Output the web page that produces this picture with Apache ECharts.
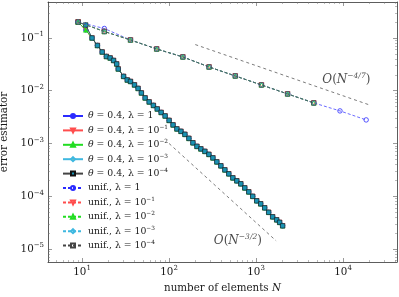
<!DOCTYPE html>
<html><head><meta charset="utf-8">
<script src="https://cdn.jsdelivr.net/npm/echarts@6/dist/echarts.min.js"></script>
<style>html,body{margin:0;padding:0;background:#fff}#c{width:399px;height:297px}</style>
</head><body><div id="c"></div>
<script>
// ---------- data ----------
const adaptN = [9,11,13,15,17,19,21,23,25,26,30,33,36,40,44,48,53,59,66,73,81,90,100,111,123,137,152,169,188,209,232,258,287,319,354,394,438,486,541,601,668,742,825,916,1018,1131,1257,1397,1552,1726,1867,2021];
// theta = 0.4, lambda = 1, 1e-1, 1e-2
const adaptErrA = [0.201,0.1418,0.100,0.0721,0.0543,0.0446,0.0418,0.0375,0.0322,0.0259,0.0187,0.0160,0.0150,0.0129,0.01106,0.00909,0.00731,0.00614,0.00527,0.00452,0.00388,0.00333,0.00274,0.00225,0.00189,0.00170,0.00149,0.00125,0.00103,0.000882,0.000790,0.000709,0.000622,0.000534,0.000448,0.000377,0.000316,0.000266,0.000223,0.000196,0.000172,0.000144,0.000121,0.0000996,0.0000819,0.0000718,0.0000603,0.0000496,0.0000407,0.0000357,0.0000320,0.0000275];
// theta = 0.4, lambda = 1e-3, 1e-4
const adaptErrB = [0.201,0.1763,0.100,0.0721,0.0543,0.0446,0.0418,0.0375,0.0322,0.0259,0.0187,0.0160,0.0150,0.0129,0.01106,0.00909,0.00731,0.00614,0.00527,0.00452,0.00388,0.00333,0.00274,0.00225,0.00189,0.00170,0.00149,0.00125,0.00103,0.000882,0.000790,0.000709,0.000622,0.000534,0.000448,0.000377,0.000316,0.000266,0.000223,0.000196,0.000172,0.000144,0.000121,0.0000996,0.0000819,0.0000718,0.0000603,0.0000496,0.0000407,0.0000357,0.0000320,0.0000275];
const unifN = [9,18,36,72,144,288,576,1152,2304,4608,9216,18432];
const unifErrLam1 = [0.201,0.1514,0.0917,0.0619,0.0437,0.02824,0.01908,0.01288,0.00870,0.00588,0.00415,0.00280];
const unifErrOther = [0.201,0.1328,0.0917,0.0619,0.0437,0.02824,0.01908,0.01288,0.00870,0.00588];
// reference slopes
const rate47N = [200,20000];
const rate47Err = [0.075,0.0054];
const rate32N = [100,1700];
const rate32Err = [0.001,0.0000143];
// annotation anchors
const noteN = [10900,617];
const noteErr = [0.0160,0.0000143];
const noteText = ['−4/7','−3/2'];
// ticks (decade exponents)
const xMajorExp = [1,2,3,4];
const yMajorExp = [-5,-4,-3,-2,-1];
const lambdaExp = ['', '−1', '−2', '−3', '−4'];
// axis range (log10 units)
const xRange = [0.608, 4.62];
const yRange = [-5.246, -0.318];

// ---------- build ----------
const F = 'DejaVu Serif';
const TC = '#1a1a1a';
const lg = Math.log10;
function minors(lo, hi, e0, e1){
  const out=[];
  for(let e=e0;e<=e1;e++) for(let k=2;k<=9;k++){const v=e+lg(k); if(v>=lo&&v<=hi) out.push(v);}
  return out;
}
const xMinor = minors(xRange[0],xRange[1],0,4);
const yMinor = minors(yRange[0],yRange[1],-6,-1);
const pair = (xs,ys)=>ys.map((y,i)=>[lg(xs[i]),lg(y)]);
const supRich = {
  b:{fontFamily:F,fontSize:10.3,color:TC,lineHeight:14},
  s:{fontFamily:F,fontSize:7,color:TC,lineHeight:8,verticalAlign:'top'}
};
const fmtPow = v => '{b|10}{s|' + String(Math.round(v)).replace('-','−') + '}';
const lineC = '#333';
function axisSet(dim){
  const isX = dim==='x';
  const r = isX?xRange:yRange;
  const maj = isX?xMajorExp:yMajorExp, mnr = isX?xMinor:yMinor;
  const pos = isX?['bottom','top']:['left','right'];
  const base = {type:'value',min:r[0],max:r[1],scale:true,splitLine:{show:false},gridIndex:0};
  return [
    Object.assign({},base,{position:pos[0],axisLine:{show:true,lineStyle:{color:lineC,width:0.8}},
      axisTick:{show:true,inside:true,length:4,customValues:maj,lineStyle:{color:'#555',width:0.6}},
      axisLabel:{show:true,customValues:maj,formatter:fmtPow,rich:supRich,margin:isX?3:4}}),
    Object.assign({},base,{position:pos[0],axisLine:{show:false},
      axisTick:{show:true,inside:true,length:2,customValues:mnr,lineStyle:{color:'#777',width:0.5}},
      axisLabel:{show:false}}),
    Object.assign({},base,{position:pos[1],axisLine:{show:true,lineStyle:{color:lineC,width:0.8}},
      axisTick:{show:true,inside:true,length:4,customValues:maj,lineStyle:{color:'#555',width:0.6}},
      axisLabel:{show:false}}),
    Object.assign({},base,{position:pos[1],axisLine:{show:false},
      axisTick:{show:true,inside:true,length:2,customValues:mnr,lineStyle:{color:'#777',width:0.5}},
      axisLabel:{show:false}})
  ];
}
const xAxes = axisSet('x'), yAxes = axisSet('y');
xAxes[0].name = 'number of elements {i|N}';
xAxes[0].nameLocation='middle'; xAxes[0].nameGap=21;
xAxes[0].nameTextStyle={fontFamily:F,fontSize:10.3,color:TC,rich:{i:{fontFamily:F,fontSize:10.3,fontStyle:'italic',color:TC}}};
yAxes[0].name = 'error estimator';
yAxes[0].nameLocation='middle'; yAxes[0].nameGap=32;
yAxes[0].nameTextStyle={fontFamily:F,fontSize:10.3,color:TC};

const colors = ['#2b2bff','#ff4d4d','#22dd22','#3fb8e0','#444444'];
const fills  = ['#2b2bff','#ff4d4d','#22dd22','#c0c070','#1a93b3'];
const borders= ['#2b2bff','#ff4d4d','#22dd22','#3fb8e0','#111111'];
const symbols = ['circle','triangle','triangle','diamond','rect'];
const rots = [0,180,0,0,0];
const adaptErrs = [adaptErrA,adaptErrA,adaptErrA,adaptErrB,adaptErrB];
const unifErrs = [unifErrLam1,unifErrOther,unifErrOther,unifErrOther,unifErrOther];

const series=[]; const legendNames=[]; const legendText={};
for(let i=0;i<5;i++){
  const nm='a'+i; legendNames.push(nm);
  legendText[nm] = '{i|θ} = 0.4, λ = ' + (i===0?'1':'10{s|'+lambdaExp[i]+'}');
  series.push({name:nm,type:'line',data:pair(adaptN,adaptErrs[i]),symbol:symbols[i],symbolRotate:rots[i],
    symbolSize:i===3?[4.5,5.5]:4.5,showAllSymbol:true,lineStyle:{color:colors[i],width:0.9},
    itemStyle:{color:fills[i],borderColor:borders[i],borderWidth:0.6},z:2+i});
}
for(let i=0;i<5;i++){
  const nm='u'+i; legendNames.push(nm);
  legendText[nm] = 'unif., λ = ' + (i===0?'1':'10{s|'+lambdaExp[i]+'}');
  series.push({name:nm,type:'line',data:pair(unifN,unifErrs[i]),symbol:symbols[i],symbolRotate:rots[i],
    symbolSize:i===3?[4.5,5.5]:4.5,showAllSymbol:true,lineStyle:{color:colors[i],width:0.7,type:[3,2]},
    itemStyle:{color:'rgba(255,255,255,0)',borderColor:colors[i],borderWidth:0.8},z:10+i});
}
series.push({name:'r47',type:'line',data:pair(rate47N,rate47Err),symbol:'none',lineStyle:{color:'#222',width:0.6,type:[3,3]},z:20});
series.push({name:'r32',type:'line',data:pair(rate32N,rate32Err),symbol:'none',lineStyle:{color:'#222',width:0.6,type:[3,3]},z:20});
series.push({name:'notes',type:'scatter',symbolSize:0,z:21,
  data:noteN.map((n,i)=>({value:[lg(n),lg(noteErr[i])],t:noteText[i]})),
  label:{show:true,position:'inside',
    formatter:p=>'{o|O}{p|(}{i|N}{s|'+p.data.t+'}{p|)}',
    rich:{o:{fontFamily:F,fontSize:12,fontStyle:'italic',color:TC,lineHeight:16},
          p:{fontFamily:F,fontSize:12,color:TC,lineHeight:16},
          i:{fontFamily:F,fontSize:12,fontStyle:'italic',color:TC,lineHeight:16},
          s:{fontFamily:F,fontSize:7.5,fontStyle:'italic',color:TC,lineHeight:9,verticalAlign:'top'}}}});

const chart = echarts.init(document.getElementById('c'),null,{renderer:'canvas'});
chart.setOption({
  animation:false,
  backgroundColor:'#fff',
  grid:{left:48,top:2,width:349,height:260,containLabel:false,outerBoundsMode:'none'},
  xAxis:xAxes, yAxis:yAxes,
  legend:{data:legendNames,orient:'vertical',left:62,top:110,padding:0,itemWidth:20,itemHeight:5,itemGap:2.4,
    formatter:n=>legendText[n],
    textStyle:{fontFamily:F,fontSize:9.3,color:TC,lineHeight:12,
      rich:{i:{fontFamily:F,fontSize:9.3,fontStyle:'italic',color:TC,lineHeight:12},
            s:{fontFamily:F,fontSize:5.8,color:TC,lineHeight:6,verticalAlign:'top'}}}},
  series:series
});
</script></body></html>
